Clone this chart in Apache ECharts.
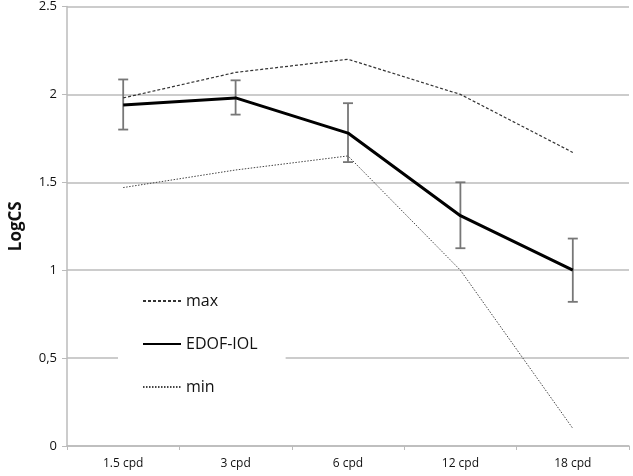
<!DOCTYPE html>
<html>
<head>
<meta charset="utf-8">
<script src="https://cdn.jsdelivr.net/npm/echarts@6/dist/echarts.min.js"></script>
<style>
  html, body { margin: 0; padding: 0; background: #fff; }
  #chart { width: 633px; height: 476px; }
</style>
</head>
<body>
<div id="chart"></div>
<script>
var categories = ['1.5 cpd', '3 cpd', '6 cpd', '12 cpd', '18 cpd']
var edofValues = [1.94, 1.98, 1.78, 1.31, 1.0]
var errLow = [1.80, 1.885, 1.615, 1.125, 0.82]
var errHigh = [2.085, 2.08, 1.95, 1.50, 1.18]
var maxValues = [1.98, 2.125, 2.2, 2.0, 1.67]
var minValues = [1.47, 1.57, 1.65, 1.0, 0.1]
var yTickLabels = { 0: '0', 0.5: '0,5', 1: '1', 1.5: '1.5', 2: '2', 2.5: '2.5' }

var fontFam = '"Open Sans", "DejaVu Sans", sans-serif'
var myChart = echarts.init(document.getElementById('chart'))

var errData = categories.map(function (c, i) {
  return [i, errLow[i], errHigh[i]]
})

var option = {
  animation: false,
  grid: { left: 67, right: 4, top: 6, bottom: 30 },
  legend: {
    orient: 'vertical',
    left: 118,
    top: 287,
    padding: [6, 28, 6, 24],
    backgroundColor: '#fff',
    itemWidth: 38,
    itemHeight: 14,
    itemGap: 27,
    itemStyle: { opacity: 0 },
    data: ['max', 'EDOF-IOL', 'min'],
    textStyle: { fontFamily: fontFam, fontSize: 16, color: '#111' }
  },
  xAxis: {
    type: 'category',
    data: categories,
    axisLine: { lineStyle: { color: '#bbb', width: 1.5 } },
    axisTick: { show: true, length: 4, lineStyle: { color: '#bbb' } },
    axisLabel: { color: '#111', fontSize: 12, fontFamily: fontFam, margin: 12 },
    splitLine: { show: false }
  },
  yAxis: {
    type: 'value',
    min: 0,
    max: 2.5,
    interval: 0.5,
    name: 'LogCS',
    nameLocation: 'middle',
    nameGap: 42,
    nameTextStyle: { color: '#111', fontSize: 17, fontWeight: 'bold', fontFamily: fontFam },
    axisLine: { show: true, lineStyle: { color: '#bbb', width: 1.5 } },
    axisTick: { show: true, length: 5, lineStyle: { color: '#bbb' } },
    axisLabel: {
      color: '#111',
      fontSize: 13,
      fontFamily: fontFam,
      margin: 10,
      formatter: function (v) { return yTickLabels[v] }
    },
    splitLine: { lineStyle: { color: '#bbb', width: 1.5 } }
  },
  series: [
    {
      name: 'max',
      type: 'line',
      data: maxValues,
      symbol: 'none',
      lineStyle: { color: '#333', width: 1.2, type: [3, 2] },
      itemStyle: { color: '#333' }
    },
    {
      name: 'EDOF-IOL',
      type: 'line',
      data: edofValues,
      symbol: 'none',
      z: 4,
      lineStyle: { color: '#000', width: 3 },
      itemStyle: { color: '#000' }
    },
    {
      name: 'min',
      type: 'line',
      data: minValues,
      symbol: 'none',
      lineStyle: { color: '#444', width: 1, type: [1.5, 1.5] },
      itemStyle: { color: '#444' }
    },
    {
      name: 'err',
      type: 'custom',
      z: 3,
      data: errData,
      renderItem: function (params, api) {
        var lo = api.coord([api.value(0), api.value(1)])
        var hi = api.coord([api.value(0), api.value(2)])
        var w = 5
        var style = { stroke: '#777', lineWidth: 1.8, fill: null }
        return {
          type: 'group',
          children: [
            { type: 'line', shape: { x1: hi[0], y1: hi[1], x2: lo[0], y2: lo[1] }, style: style },
            { type: 'line', shape: { x1: hi[0] - w, y1: hi[1], x2: hi[0] + w, y2: hi[1] }, style: style },
            { type: 'line', shape: { x1: lo[0] - w, y1: lo[1], x2: lo[0] + w, y2: lo[1] }, style: style }
          ]
        }
      }
    }
  ]
}
myChart.setOption(option)
</script>
</body>
</html>
